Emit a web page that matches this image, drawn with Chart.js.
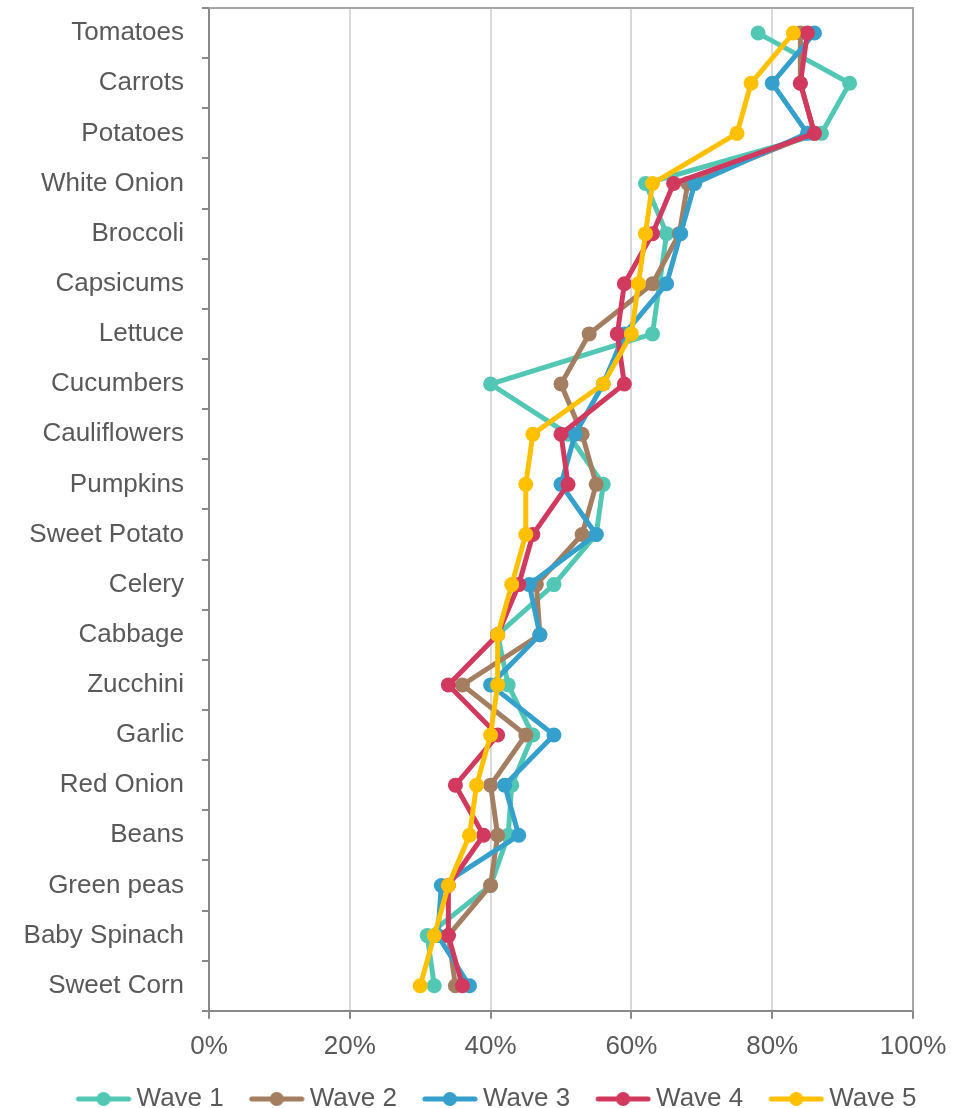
<!DOCTYPE html>
<html>
<head>
<meta charset="utf-8">
<script src="https://cdn.jsdelivr.net/npm/chart.js@4"></script>
<style>
  html, body { margin: 0; padding: 0; background: #fff; }
  #wrap { width: 968px; height: 1108px; }
</style>
</head>
<body>
<div id="wrap"><canvas id="graph" width="968" height="1108"></canvas></div>
<script>
const vegetables = ['Tomatoes', 'Carrots', 'Potatoes', 'White Onion', 'Broccoli', 'Capsicums', 'Lettuce',
    'Cucumbers', 'Cauliflowers', 'Pumpkins', 'Sweet Potato', 'Celery', 'Cabbage', 'Zucchini', 'Garlic',
    'Red Onion', 'Beans', 'Green peas', 'Baby Spinach', 'Sweet Corn'];

const wave1 = [78, 91, 87, 62, 65, 64, 63, 40, 51, 56, 55, 49, 41, 42.5, 46, 43, 42.5, 40, 31, 32];
const wave2 = [84, 84, 86, 68, 66.8, 63, 54, 50, 53, 55, 53, 46.5, 47, 36, 45, 40, 41, 40, 34, 35];
const wave3 = [86, 80, 85, 69, 67, 65, 59, 56, 52, 50, 55, 45.5, 47, 40, 49, 42, 44, 33, 32.5, 37];
const wave4 = [85, 84, 86, 66, 63, 59, 58, 59, 50, 51, 46, 44, 41, 34, 41, 35, 39, 34, 34, 36];
const wave5 = [83, 77, 75, 63, 62, 61, 60, 56, 46, 45, 45, 43, 41, 41, 40, 38, 37, 34, 32, 30];

const waveNames = ['Wave 1', 'Wave 2', 'Wave 3', 'Wave 4', 'Wave 5'];
const waveColors = ['#52C8B4', '#A47E61', '#35A0CB', '#D1395F', '#FFC000'];
const xTicks = [0, 20, 40, 60, 80, 100];

const textColor = '#595959';
const font = { family: 'Liberation Sans, Arial, sans-serif', size: 26 };

// "line with a dot" legend marker, drawn in the right part of the image
function legendMarker(color) {
    const c = document.createElement('canvas');
    c.width = 77;
    c.height = 16;
    const g = c.getContext('2d');
    g.strokeStyle = color;
    g.lineWidth = 5;
    g.lineCap = 'round';
    g.beginPath();
    g.moveTo(24, 8);
    g.lineTo(74, 8);
    g.stroke();
    g.fillStyle = color;
    g.beginPath();
    g.arc(49, 8, 7, 0, Math.PI * 2);
    g.fill();
    return c;
}

const boxBorder = {
    id: 'boxBorder',
    beforeDraw(chart) {
        // legend sits a bit right of the canvas centre in the original
        const lg = chart.legend;
        const shift = 489.5 - (lg.left + lg.right) / 2;
        lg.left += shift;
        lg.right += shift;
    },
    afterDatasetsDraw(chart) {
        const a = chart.chartArea;
        const c = chart.ctx;
        c.save();
        c.strokeStyle = '#a6a6a6';
        c.lineWidth = 2;
        c.beginPath();
        c.moveTo(a.left, a.top);
        c.lineTo(a.right, a.top);
        c.lineTo(a.right, a.bottom);
        c.stroke();
        c.restore();
    }
};

const series = [wave1, wave2, wave3, wave4, wave5];
const datasets = series.map((values, i) => ({
    label: waveNames[i],
    data: values,
    borderColor: waveColors[i],
    backgroundColor: waveColors[i],
    borderWidth: 5,
    pointRadius: 7.5,
    pointBorderWidth: 0,
    tension: 0,
    order: series.length - i
}));

const ctx = document.querySelector('#graph').getContext('2d');

new Chart(ctx, {
    type: 'line',
    data: {
        labels: vegetables,
        datasets: datasets
    },
    plugins: [boxBorder],
    options: {
        indexAxis: 'y',
        responsive: false,
        animation: false,
        events: [],
        layout: {
            padding: { left: 0, right: 55, top: 8, bottom: -14 }
        },
        scales: {
            x: {
                type: 'linear',
                min: 0,
                max: 100,
                afterBuildTicks(scale) {
                    scale.ticks = xTicks.map(v => ({ value: v }));
                },
                border: { color: '#898989', width: 2 },
                grid: {
                    color: '#d9d9d9',
                    lineWidth: 2,
                    tickColor: '#898989',
                    tickLength: 8
                },
                ticks: {
                    color: textColor,
                    font: font,
                    padding: 12,
                    maxRotation: 0,
                    callback: v => v + '%'
                }
            },
            y: {
                type: 'category',
                offset: true,
                afterFit(scale) {
                    scale.width = 209;
                    scale.paddingTop = 0;
                    scale.paddingBottom = 0;
                },
                border: { color: '#898989', width: 2 },
                grid: {
                    offset: true,
                    drawOnChartArea: false,
                    color: '#898989',
                    lineWidth: 2,
                    tickLength: 7
                },
                ticks: {
                    color: textColor,
                    font: font,
                    padding: 18,
                    autoSkip: false
                }
            }
        },
        plugins: {
            tooltip: { enabled: false },
            legend: {
                position: 'bottom',
                labels: {
                    color: textColor,
                    font: font,
                    usePointStyle: true,
                    pointStyleWidth: 61,
                    boxHeight: 16,
                    padding: 12,
                    generateLabels(chart) {
                        return chart.data.datasets.map((ds, i) => ({
                            text: ds.label,
                            datasetIndex: i,
                            fontColor: textColor,
                            pointStyle: legendMarker(waveColors[i]),
                            fillStyle: waveColors[i],
                            strokeStyle: waveColors[i],
                            lineWidth: 0,
                            hidden: false
                        }));
                    }
                }
            }
        }
    }
});
</script>
</body>
</html>
